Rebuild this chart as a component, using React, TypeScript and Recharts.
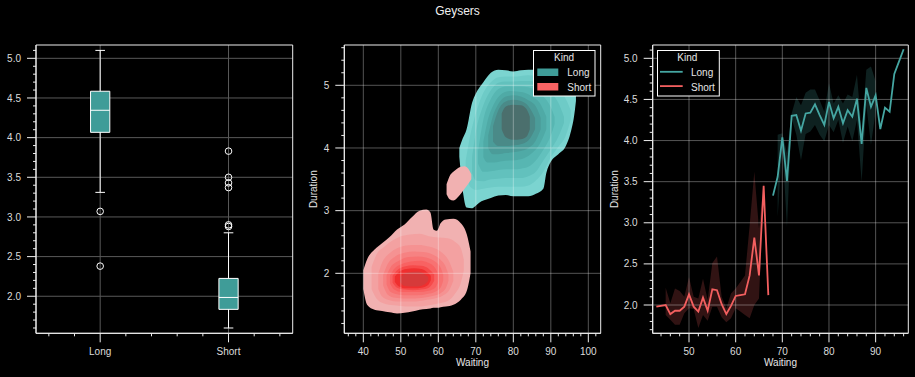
import React from 'react';
import {
  ComposedChart,
  XAxis,
  YAxis,
  CartesianGrid,
  Area,
  Line,
  Scatter,
  ReferenceArea,
  ReferenceLine,
} from 'recharts';

const FONT = '"Liberation Sans", Arial, Helvetica, sans-serif';
const TICK = '#dcdcdc';
const SPINE = '#eeeeee';
const LONG = '#3f9c98';
const SHORT = '#f86363';
const LONG_LINE = '#45a6a2';
const SHORT_LINE = '#f35f5f';

// ---------- Panel 1: box plot ----------
const kindNames = ['Long', 'Short'];
const kindPos = [1, 2];
const boxQ1 = [4.067, 1.835];
const boxMedian = [4.345, 1.985];
const boxQ3 = [4.585, 2.225];
const whiskerLow = [3.31, 1.6];
const whiskerHigh = [5.1, 2.8];
const longOutliers = [3.07, 2.38];
const shortOutliers = [3.83, 3.5, 3.43, 3.37, 2.9, 2.88];

const boxXTicks = [1, 2];
const boxXMinor = [0.6, 0.8, 1.2, 1.4, 1.6, 1.8, 2.2, 2.4];
const boxYTicks = [2.0, 2.5, 3.0, 3.5, 4.0, 4.5, 5.0];
const boxYMinor = [1.6, 1.7, 1.8, 1.9, 2.1, 2.2, 2.3, 2.4, 2.6, 2.7, 2.8, 2.9, 3.1, 3.2, 3.3, 3.4, 3.6, 3.7, 3.8, 3.9, 4.1, 4.2, 4.3, 4.4, 4.6, 4.7, 4.8, 4.9, 5.1];

// ---------- Panel 2: KDE contours [waiting, low, high] ----------
const longLevel0 = [
  [65.6, 3.86, 4.0], [66.5, 3.33, 4.15], [67.5, 3.05, 4.29], [69, 3.04, 4.72], [70, 3.08, 4.87],
  [71, 3.13, 4.97], [72, 3.16, 5.05], [74, 3.2, 5.2], [76, 3.24, 5.25], [78, 3.25, 5.24],
  [80, 3.23, 5.22], [82, 3.23, 5.24], [84, 3.23, 5.25], [86, 3.27, 5.25], [88, 3.35, 5.22],
  [88.8, 3.6, 5.21], [90, 3.78, 5.2], [92, 3.9, 5.15], [94, 4.03, 5.1], [95.3, 4.25, 5.05],
  [96.3, 4.55, 4.95], [96.7, 4.75, 4.85],
];
const longLevel1 = [
  [67.3, 3.6, 3.8], [68.5, 3.38, 4.2], [70, 3.33, 4.55], [72, 3.35, 4.88], [74, 3.37, 5.05],
  [76, 3.38, 5.13], [78, 3.38, 5.14], [80, 3.38, 5.14], [82, 3.38, 5.15], [84, 3.4, 5.16],
  [86, 3.48, 5.15], [88, 3.62, 5.1], [90, 3.85, 5.02], [92, 4.02, 4.92], [94, 4.2, 4.78],
  [95.3, 4.45, 4.6],
];
const longLevel2 = [
  [69, 3.6, 3.85], [70, 3.48, 4.25], [72, 3.47, 4.68], [74, 3.5, 4.92], [76, 3.51, 5.04],
  [78, 3.52, 5.06], [80, 3.52, 5.06], [82, 3.52, 5.07], [84, 3.55, 5.07], [86, 3.62, 5.05],
  [88, 3.8, 4.98], [90, 3.98, 4.88], [92, 4.18, 4.72], [93.5, 4.4, 4.5],
];
const longLevel3 = [
  [70.6, 3.75, 3.95], [72, 3.62, 4.45], [74, 3.63, 4.78], [76, 3.65, 4.94], [78, 3.66, 4.98],
  [80, 3.66, 4.98], [82, 3.67, 4.98], [84, 3.7, 4.97], [86, 3.8, 4.92], [88, 3.97, 4.82],
  [90, 4.2, 4.65], [91, 4.38, 4.5],
];
const longLevel4 = [
  [72, 3.85, 4.1], [73, 3.77, 4.4], [75, 3.77, 4.72], [77, 3.79, 4.87], [79, 3.8, 4.91],
  [81, 3.81, 4.9], [83, 3.84, 4.88], [85, 3.92, 4.82], [87, 4.06, 4.72], [88.8, 4.3, 4.5],
];
const longLevel5 = [
  [73.3, 4.0, 4.2], [74.5, 3.9, 4.5], [76, 3.9, 4.7], [78, 3.92, 4.82], [80, 3.93, 4.84],
  [82, 3.95, 4.82], [84, 4.0, 4.76], [86, 4.12, 4.66], [87.3, 4.3, 4.48],
];
const longLevel6 = [
  [74.6, 4.1, 4.35], [76, 4.03, 4.6], [78, 4.03, 4.74], [80, 4.04, 4.77], [82, 4.06, 4.75],
  [84, 4.12, 4.67], [85.8, 4.3, 4.48],
];
const longLevel7 = [
  [76.9, 4.3, 4.55], [78, 4.17, 4.66], [80, 4.13, 4.69], [82, 4.14, 4.68], [83.5, 4.18, 4.62],
  [84.4, 4.3, 4.5],
];
const longLevels = [longLevel0, longLevel1, longLevel2, longLevel3, longLevel4, longLevel5, longLevel6, longLevel7];
const longColors = ['#7bd4d0', '#6ecbc7', '#62c1bd', '#57b6b2', '#4faaa6', '#4b9c99', '#4a8a88', '#4b6f6d'];

const shortBlob = [
  [62.2, 3.26, 3.42], [63, 3.18, 3.55], [64, 3.16, 3.62], [65, 3.2, 3.67], [66, 3.27, 3.7],
  [67, 3.35, 3.71], [68, 3.43, 3.67], [68.8, 3.5, 3.58],
];
const shortLevel0 = [
  [40, 1.75, 2.05], [41, 1.5, 2.22], [43, 1.42, 2.38], [45, 1.4, 2.48], [47, 1.38, 2.58],
  [49, 1.36, 2.7], [51, 1.37, 2.78], [53, 1.39, 2.9], [55, 1.42, 3.0], [56.8, 1.43, 3.02],
  [57.9, 1.44, 2.97], [58.7, 1.45, 2.7], [59.6, 1.45, 2.68], [60.6, 1.46, 2.8], [62, 1.47, 2.86],
  [64, 1.5, 2.87], [66, 1.58, 2.8], [67.6, 1.72, 2.62], [68.6, 2.0, 2.35],
];
const shortLevel1 = [
  [42.2, 1.75, 2.1], [43.5, 1.6, 2.3], [45.5, 1.52, 2.42], [48, 1.49, 2.53], [50, 1.48, 2.59],
  [52.5, 1.47, 2.62], [55, 1.47, 2.63], [57.5, 1.49, 2.59], [60, 1.52, 2.57], [62.5, 1.56, 2.56],
  [64.5, 1.68, 2.5], [66, 1.85, 2.4], [66.8, 2.05, 2.22],
];
const shortLevel2 = [
  [44, 1.75, 2.0], [45, 1.63, 2.17], [47, 1.57, 2.32], [49, 1.55, 2.4], [51, 1.55, 2.44],
  [53, 1.55, 2.45], [55, 1.56, 2.45], [57, 1.58, 2.43], [59, 1.6, 2.4], [61, 1.64, 2.33],
  [62.8, 1.72, 2.2], [64, 1.88, 2.02],
];
const shortLevel3 = [
  [45.3, 1.8, 1.98], [46.5, 1.66, 2.15], [48.5, 1.61, 2.27], [51, 1.6, 2.33], [53.5, 1.6, 2.35],
  [56, 1.61, 2.34], [58.5, 1.64, 2.3], [60.5, 1.68, 2.22], [62, 1.76, 2.1], [62.7, 1.88, 1.98],
];
const shortLevel4 = [
  [46.2, 1.82, 1.97], [47.3, 1.7, 2.1], [49.5, 1.66, 2.2], [52, 1.65, 2.26], [54.5, 1.65, 2.27],
  [57, 1.67, 2.25], [59.3, 1.71, 2.18], [60.7, 1.78, 2.08], [61.3, 1.88, 1.98],
];
const shortLevel5 = [
  [47.1, 1.84, 1.96], [48.2, 1.74, 2.07], [50.3, 1.7, 2.15], [52.7, 1.7, 2.19], [55, 1.7, 2.2],
  [57.3, 1.72, 2.17], [59.2, 1.77, 2.08], [60, 1.87, 1.98],
];
const shortLevel6 = [
  [47.8, 1.85, 1.96], [49, 1.77, 2.05], [51, 1.74, 2.11], [53.3, 1.73, 2.13], [55.5, 1.74, 2.12],
  [57.5, 1.77, 2.07], [58.9, 1.88, 1.98],
];
const shortLevel7 = [
  [48.4, 1.86, 1.95], [49.5, 1.79, 2.02], [51.5, 1.76, 2.07], [53.5, 1.76, 2.08], [55.5, 1.77, 2.07],
  [57.2, 1.81, 2.01], [58, 1.89, 1.96],
];
const shortLevel8 = [
  [49.8, 1.86, 1.94], [50.8, 1.8, 1.99], [52.5, 1.79, 2.02], [54.5, 1.79, 2.03], [56.3, 1.82, 1.99],
  [57.3, 1.88, 1.94],
];
const shortLevels = [shortLevel0, shortLevel1, shortLevel2, shortLevel3, shortLevel4, shortLevel5, shortLevel6, shortLevel7, shortLevel8];
const shortColors = ['#f1b1b1', '#f3a1a1', '#f59292', '#f68282', '#f77272', '#f86262', '#f64a4a', '#ef2f2f', '#d63a3a'];

const kdeXTicks = [40, 50, 60, 70, 80, 90, 100];
const kdeXMinor = [36, 38, 42, 44, 46, 48, 52, 54, 56, 58, 62, 64, 66, 68, 72, 74, 76, 78, 82, 84, 86, 88, 92, 94, 96, 98, 102];
const kdeYTicks = [2, 3, 4, 5];
const kdeYMinor = [1.2, 1.4, 1.6, 1.8, 2.2, 2.4, 2.6, 2.8, 3.2, 3.4, 3.6, 3.8, 4.2, 4.4, 4.6, 4.8, 5.2, 5.4, 5.6];

// ---------- Panel 3: mean lines with CI bands ----------
const shortWaiting = [43, 45, 46, 47, 48, 49, 50, 51, 52, 53, 54, 55, 56, 57, 58, 59, 60, 61, 62, 63, 64, 65, 66, 67];
const shortMean = [1.98, 2.0, 1.89, 1.93, 1.93, 1.98, 2.13, 1.98, 1.92, 2.09, 1.93, 2.19, 2.18, 2.01, 1.89, 1.99, 2.11, 2.12, 2.13, 2.36, 2.82, 2.36, 3.45, 2.12];
const shortBandWaiting = [45, 46, 47, 48, 49, 50, 51, 52, 53, 54, 55, 56, 57, 58, 59, 60, 61, 62, 63, 64, 65, 66];
const shortLow = [1.88, 1.82, 1.76, 1.76, 1.9, 1.96, 1.95, 1.72, 1.88, 1.81, 1.98, 1.98, 1.85, 1.79, 1.84, 1.96, 1.92, 1.88, 1.84, 2.0, 2.08, 3.4];
const shortHigh = [2.21, 2.02, 2.2, 2.17, 2.1, 2.34, 2.1, 2.08, 2.32, 2.06, 2.51, 2.59, 2.1, 1.96, 2.14, 2.2, 2.28, 2.36, 2.97, 3.62, 2.93, 3.49];

const longWaiting = [68, 69, 70, 71, 72, 73, 74, 75, 76, 77, 78, 79, 80, 81, 82, 83, 84, 85, 86, 87, 88, 89, 90, 91, 92, 93, 94, 95, 96];
const longMean = [3.33, 3.56, 4.04, 3.51, 4.3, 4.31, 4.12, 4.33, 4.34, 4.44, 4.31, 4.19, 4.47, 4.27, 4.41, 4.21, 4.37, 4.29, 4.51, 3.96, 4.64, 4.41, 4.55, 4.14, 4.4, 4.35, 4.81, 4.96, 5.11];
const longBandWaiting = [69, 70, 71, 72, 73, 74, 75, 76, 77, 78, 79, 80, 81, 82, 83, 84, 85, 86, 87, 88, 89, 90];
const longLow = [3.07, 3.95, 2.95, 4.27, 4.07, 3.76, 4.08, 4.11, 4.19, 4.07, 3.99, 4.19, 4.1, 4.25, 3.97, 4.17, 3.99, 4.25, 3.5, 4.43, 3.95, 4.35];
const longHigh = [4.07, 4.09, 3.85, 4.33, 4.53, 4.43, 4.58, 4.62, 4.62, 4.49, 4.35, 4.7, 4.45, 4.55, 4.45, 4.56, 4.53, 4.8, 4.11, 4.86, 4.9, 4.72];

const lineXTicks = [50, 60, 70, 80, 90];
const lineXMinor = [44, 46, 48, 52, 54, 56, 58, 62, 64, 66, 68, 72, 74, 76, 78, 82, 84, 86, 88, 92, 94, 96];
const lineYTicks = [2.0, 2.5, 3.0, 3.5, 4.0, 4.5, 5.0];
const lineYMinor = [1.7, 1.8, 1.9, 2.1, 2.2, 2.3, 2.4, 2.6, 2.7, 2.8, 2.9, 3.1, 3.2, 3.3, 3.4, 3.6, 3.7, 3.8, 3.9, 4.1, 4.2, 4.3, 4.4, 4.6, 4.7, 4.8, 4.9, 5.1];

// ---------- helpers ----------
const toRange = (lvl: number[][]) => lvl.map(([x, lo, hi]) => ({ x, r: [lo, hi] }));
const toPoints = (xs: number[], ys: number[]) => xs.map((x, i) => ({ x, y: ys[i] }));
const toBand = (xs: number[], lo: number[], hi: number[]) => xs.map((x, i) => ({ x, r: [lo[i], hi[i]] }));

type AxisSpec = {
  xDomain: number[];
  yDomain: number[];
  xTicks: number[];
  yTicks: number[];
  xMinor: number[];
  yMinor: number[];
  xFormat: (v: number) => string;
  yFormat: (v: number) => string;
};

const MAJOR_LEN = 9;
const MINOR_LEN = 3;
const labelStyle = { fill: TICK, fontSize: 10, fontFamily: FONT };

function makeXTick(majors: number[], fmt: (v: number) => string) {
  return (props: any) => {
    const { x, y, payload } = props;
    const v = payload.value;
    const major = majors.includes(v);
    return (
      <g>
        <line x1={x} x2={x} y1={y} y2={y + (major ? MAJOR_LEN : MINOR_LEN)} stroke={SPINE} strokeWidth={1} />
        {major ? (
          <text x={x} y={y + 22} textAnchor="middle" style={labelStyle}>{fmt(v)}</text>
        ) : null}
      </g>
    );
  };
}

function makeYTick(majors: number[], fmt: (v: number) => string) {
  return (props: any) => {
    const { x, y, payload } = props;
    const v = payload.value;
    const major = majors.includes(v);
    return (
      <g>
        <line x1={x} x2={x - (major ? MAJOR_LEN : MINOR_LEN)} y1={y} y2={y} stroke={SPINE} strokeWidth={1} />
        {major ? (
          <text x={x - 15} y={y + 3.6} textAnchor="end" style={labelStyle}>{fmt(v)}</text>
        ) : null}
      </g>
    );
  };
}

function axes(p: AxisSpec) {
  const xAll = [...p.xTicks, ...p.xMinor].sort((a, b) => a - b);
  const yAll = [...p.yTicks, ...p.yMinor].sort((a, b) => a - b);
  return [
    <XAxis key="x" type="number" dataKey="x" domain={p.xDomain} allowDataOverflow ticks={xAll} interval={0}
      tick={makeXTick(p.xTicks, p.xFormat)} tickSize={0} tickMargin={0} tickLine={false} axisLine={{ stroke: SPINE }} height={30} />,
    <YAxis key="y" type="number" dataKey="y" domain={p.yDomain} allowDataOverflow ticks={yAll} interval={0}
      tick={makeYTick(p.yTicks, p.yFormat)} tickSize={0} tickMargin={0} tickLine={false} axisLine={{ stroke: SPINE }} width={30} />,
    <ReferenceArea key="spine" x1={p.xDomain[0]} x2={p.xDomain[1]} y1={p.yDomain[0]} y2={p.yDomain[1]}
      fill="none" fillOpacity={0} stroke={SPINE} strokeWidth={1} ifOverflow="visible" />,
  ];
}

const fmt1 = (v: number) => v.toFixed(1);
const fmt0 = (v: number) => String(v);

function BoxPanel() {
  const half = 0.075;
  const cap = 0.0375;
  const outliers = [
    ...longOutliers.map((y) => ({ x: kindPos[0], y })),
    ...shortOutliers.map((y) => ({ x: kindPos[1], y })),
  ];
  return (
    <ComposedChart width={305} height={377} margin={{ top: 45, left: 6, right: 12.3, bottom: 13.7 }}>
      <CartesianGrid stroke="#5a5a5a" horizontalValues={boxYTicks} verticalValues={boxXTicks} />
      {axes({
        xDomain: [0.5, 2.5], yDomain: [1.533, 5.168], xTicks: boxXTicks, yTicks: boxYTicks,
        xMinor: boxXMinor, yMinor: boxYMinor, xFormat: (v) => kindNames[v - 1], yFormat: fmt1,
      })}
      {kindPos.map((p, i) => (
        <ReferenceArea key={'box' + i} x1={p - half} x2={p + half} y1={boxQ1[i]} y2={boxQ3[i]}
          fill={LONG} fillOpacity={1} stroke="#ffffff" strokeWidth={1} />
      ))}
      {kindPos.map((p, i) => (
        <ReferenceLine key={'wl' + i} segment={[{ x: p, y: whiskerLow[i] }, { x: p, y: boxQ1[i] }]} stroke="#ffffff" strokeWidth={1} />
      ))}
      {kindPos.map((p, i) => (
        <ReferenceLine key={'wh' + i} segment={[{ x: p, y: boxQ3[i] }, { x: p, y: whiskerHigh[i] }]} stroke="#ffffff" strokeWidth={1} />
      ))}
      {kindPos.map((p, i) => (
        <ReferenceLine key={'cl' + i} segment={[{ x: p - cap, y: whiskerLow[i] }, { x: p + cap, y: whiskerLow[i] }]} stroke="#ffffff" strokeWidth={1} />
      ))}
      {kindPos.map((p, i) => (
        <ReferenceLine key={'ch' + i} segment={[{ x: p - cap, y: whiskerHigh[i] }, { x: p + cap, y: whiskerHigh[i] }]} stroke="#ffffff" strokeWidth={1} />
      ))}
      {kindPos.map((p, i) => (
        <ReferenceLine key={'md' + i} segment={[{ x: p - half, y: boxMedian[i] }, { x: p + half, y: boxMedian[i] }]} stroke="#ffffff" strokeWidth={1} />
      ))}
      <Scatter data={outliers} dataKey="y" isAnimationActive={false}
        shape={(props: any) => <circle cx={props.cx} cy={props.cy} r={3.3} fill="none" stroke="#ffffff" strokeWidth={1} />} />
    </ComposedChart>
  );
}

function KdePanel() {
  return (
    <ComposedChart width={305} height={377} margin={{ top: 45, left: 9.3, right: 9.3, bottom: 13.7 }}>
      {axes({
        xDomain: [34.93, 103.3], yDomain: [1.043, 5.643], xTicks: kdeXTicks, yTicks: kdeYTicks,
        xMinor: kdeXMinor, yMinor: kdeYMinor, xFormat: fmt0, yFormat: fmt0,
      })}
      {longLevels.map((lvl, i) => (
        <Area key={'L' + i} data={toRange(lvl)} dataKey="r" type="monotone" stroke="none" fill={longColors[i]}
          fillOpacity={1} dot={false} activeDot={false} isAnimationActive={false} />
      ))}
      <Area key="blob" data={toRange(shortBlob)} dataKey="r" type="monotone" stroke="none" fill={shortColors[0]}
        fillOpacity={1} dot={false} activeDot={false} isAnimationActive={false} />
      {shortLevels.map((lvl, i) => (
        <Area key={'S' + i} data={toRange(lvl)} dataKey="r" type="monotone" stroke="none" fill={shortColors[i]}
          fillOpacity={1} dot={false} activeDot={false} isAnimationActive={false} />
      ))}
      {kdeXTicks.map((v) => (
        <ReferenceLine key={'gx' + v} x={v} stroke="#ffffff" strokeOpacity={0.33} strokeWidth={1} />
      ))}
      {kdeYTicks.map((v) => (
        <ReferenceLine key={'gy' + v} y={v} stroke="#ffffff" strokeOpacity={0.33} strokeWidth={1} />
      ))}
    </ComposedChart>
  );
}

function LinePanel() {
  return (
    <ComposedChart width={305} height={377} margin={{ top: 45, left: 12.7, right: 6.7, bottom: 13.7 }}>
      {axes({
        xDomain: [42.22, 97.0], yDomain: [1.656, 5.162], xTicks: lineXTicks, yTicks: lineYTicks,
        xMinor: lineXMinor, yMinor: lineYMinor, xFormat: fmt0, yFormat: fmt1,
      })}
      <Area data={toBand(shortBandWaiting, shortLow, shortHigh)} dataKey="r" type="linear" stroke="none" fill={SHORT_LINE}
        fillOpacity={0.2} dot={false} activeDot={false} isAnimationActive={false} />
      <Area data={toBand(longBandWaiting, longLow, longHigh)} dataKey="r" type="linear" stroke="none" fill={LONG_LINE}
        fillOpacity={0.2} dot={false} activeDot={false} isAnimationActive={false} />
      {lineXTicks.map((v) => (
        <ReferenceLine key={'gx' + v} x={v} stroke="#ffffff" strokeOpacity={0.33} strokeWidth={1} />
      ))}
      {lineYTicks.map((v) => (
        <ReferenceLine key={'gy' + v} y={v} stroke="#ffffff" strokeOpacity={0.33} strokeWidth={1} />
      ))}
      <Line data={toPoints(shortWaiting, shortMean)} dataKey="y" type="linear" stroke={SHORT_LINE} strokeWidth={1.8}
        dot={false} activeDot={false} isAnimationActive={false} />
      <Line data={toPoints(longWaiting, longMean)} dataKey="y" type="linear" stroke={LONG_LINE} strokeWidth={1.8}
        dot={false} activeDot={false} isAnimationActive={false} />
    </ComposedChart>
  );
}

function Overlay() {
  const txt = { fontFamily: FONT, fontSize: 10, fill: '#e6e6e6' } as const;
  return (
    <svg width={915} height={377} style={{ position: 'absolute', left: 0, top: 0, pointerEvents: 'none' }}>
      <text x={457.5} y={14.5} textAnchor="middle" style={{ fontFamily: FONT, fontSize: 12, fill: '#f0f0f0' }}>Geysers</text>
      <text x={472.5} y={366} textAnchor="middle" style={txt}>Waiting</text>
      <text x={780.5} y={366} textAnchor="middle" style={txt}>Waiting</text>
      <text transform="translate(317.3,189.2) rotate(-90)" textAnchor="middle" style={txt}>Duration</text>
      <text transform="translate(617.7,189.2) rotate(-90)" textAnchor="middle" style={txt}>Duration</text>

      {/* KDE legend */}
      <rect x={533.5} y={50.5} width={61.5} height={45.5} fill="#000000" stroke="#ffffff" strokeWidth={1} />
      <text x={564} y={60.8} textAnchor="middle" style={txt}>Kind</text>
      <rect x={537.3} y={68.5} width={21} height={7.5} fill={LONG} />
      <rect x={537.3} y={83} width={21} height={7.5} fill={SHORT} />
      <text x={567.3} y={76} style={txt}>{kindNames[0]}</text>
      <text x={567.3} y={90.5} style={txt}>{kindNames[1]}</text>

      {/* Line legend */}
      <rect x={657.5} y={50.5} width={61.8} height={45.5} fill="#000000" stroke="#ffffff" strokeWidth={1} />
      <text x={687.3} y={60.8} textAnchor="middle" style={txt}>Kind</text>
      <line x1={660} x2={682.7} y1={71.8} y2={71.8} stroke={LONG_LINE} strokeWidth={1.8} />
      <line x1={660} x2={682.7} y1={86.1} y2={86.1} stroke={SHORT_LINE} strokeWidth={1.8} />
      <text x={691} y={76} style={txt}>{kindNames[0]}</text>
      <text x={691} y={90.5} style={txt}>{kindNames[1]}</text>
    </svg>
  );
}

export default function App() {
  return (
    <div style={{ position: 'absolute', left: 0, top: 0, width: 915, height: 377, background: '#000000', overflow: 'hidden' }}>
      <div style={{ position: 'absolute', left: 0, top: 0 }}>
        <BoxPanel />
      </div>
      <div style={{ position: 'absolute', left: 305, top: 0 }}>
        <KdePanel />
      </div>
      <div style={{ position: 'absolute', left: 610, top: 0 }}>
        <LinePanel />
      </div>
      <Overlay />
    </div>
  );
}
